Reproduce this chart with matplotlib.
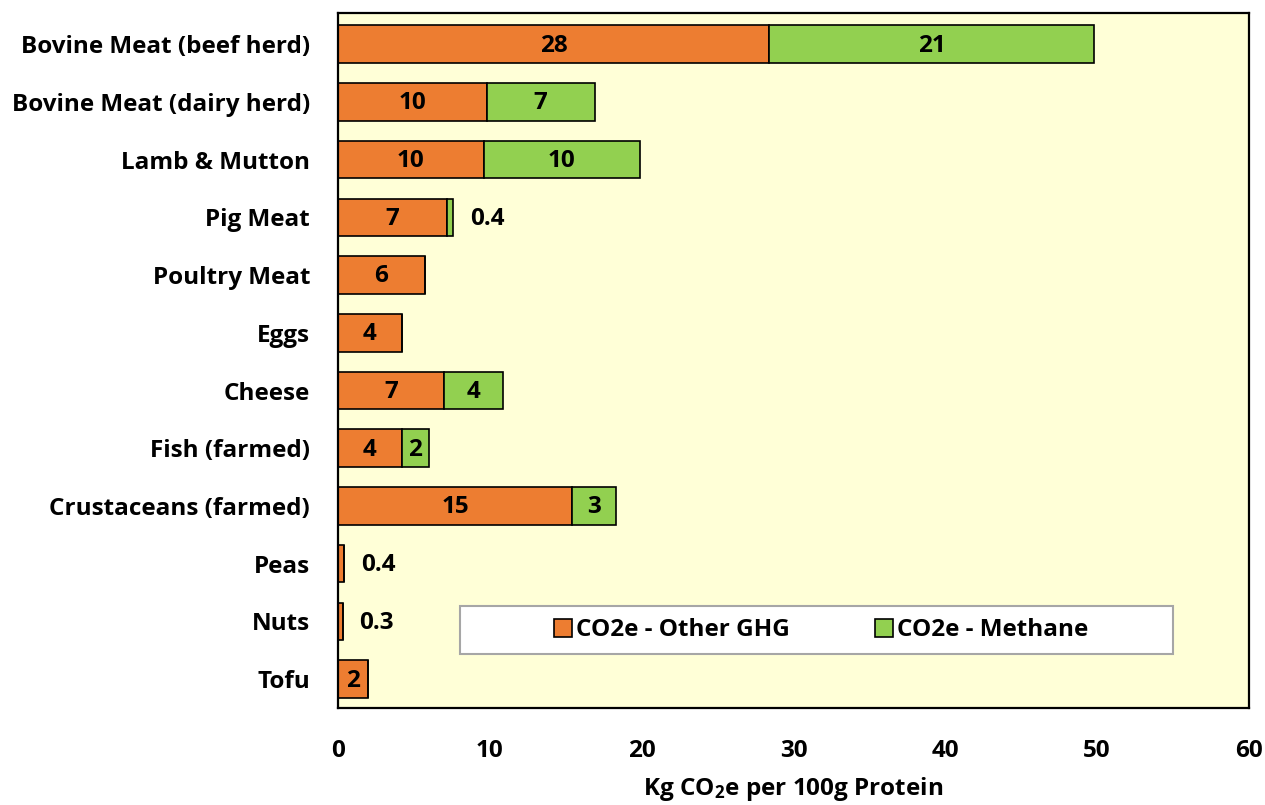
import matplotlib
matplotlib.use("Agg")
import matplotlib.pyplot as plt
from matplotlib.patches import Rectangle

# === Datos ===
alimentos = ["Bovine Meat (beef herd)", "Bovine Meat (dairy herd)", "Lamb & Mutton",
             "Pig Meat", "Poultry Meat", "Eggs", "Cheese", "Fish (farmed)",
             "Crustaceans (farmed)", "Peas", "Nuts", "Tofu"]
otros_ghg = [28.4, 9.8, 9.6, 7.2, 5.7, 4.2, 7.0, 4.2, 15.4, 0.4, 0.3, 2.0]
metano = [21.4, 7.1, 10.3, 0.4, 0, 0, 3.9, 1.8, 2.9, 0, 0, 0]

color_otros = "#ED7D31"
color_metano = "#92D050"
tam = 17.5

plt.rcParams["font.family"] = ["Open Sans", "DejaVu Sans"]
plt.rcParams["font.weight"] = "bold"
plt.rcParams["axes.labelweight"] = "bold"
plt.rcParams["mathtext.fontset"] = "custom"
plt.rcParams["mathtext.rm"] = "Open Sans:bold"
plt.rcParams["mathtext.default"] = "rm"

fig = plt.figure(figsize=(12.65, 8.05), dpi=100)
ax = fig.add_axes([338 / 1265, 1 - 708 / 805, 911 / 1265, 695 / 805])
ax.set_facecolor("#FFFFD7")

y = list(range(len(alimentos)))
alto = 0.65
b1 = ax.barh(y, otros_ghg, height=alto, color=color_otros, edgecolor="black",
             linewidth=1.2, label="CO2e - Other GHG")
b2 = ax.barh(y, metano, height=alto, left=otros_ghg, color=color_metano,
             edgecolor="black", linewidth=1.2, label="CO2e - Methane")


def etiqueta(v):
    return f"{v:.1f}" if v < 1 else f"{v:.0f}"


# Etiquetas de valor: dentro del segmento o a la derecha si es muy pequeño
for i in y:
    segmentos = [(0, otros_ghg[i])]
    if metano[i] > 0:
        segmentos.append((otros_ghg[i], metano[i]))
    for inicio, v in segmentos:
        if v < 1:
            ax.annotate(etiqueta(v), (inicio + v, i), xytext=(12, -1),
                        textcoords="offset points", ha="left", va="center",
                        fontsize=tam)
        else:
            ax.annotate(etiqueta(v), (inicio + v / 2, i), xytext=(0, -1),
                        textcoords="offset points", ha="center", va="center",
                        fontsize=tam)

ax.set_xlim(0, 60)
ax.set_ylim(11.5, -0.54)
ax.set_xticks(range(0, 61, 10))
ax.set_yticks(y)
ax.set_yticklabels(alimentos)
ax.tick_params(axis="both", length=0, labelsize=tam)
ax.tick_params(axis="x", pad=22)
ax.tick_params(axis="y", pad=20)
for s in ax.spines.values():
    s.set_linewidth(1.6)

ax.set_xlabel("Kg CO$_2$e per 100g Protein", fontsize=tam, labelpad=9)

# Caja de la leyenda
ax.add_patch(Rectangle((0.134, 0.078), 0.783, 0.069, transform=ax.transAxes,
                       facecolor="white", edgecolor="#A6A6A6", linewidth=1.5,
                       zorder=4))
ax.legend(handles=[b1, b2], loc="center", bbox_to_anchor=(0.53, 0.112), ncol=2,
          frameon=False, fontsize=tam, handlelength=0.75, handleheight=0.75,
          handletextpad=0.15, columnspacing=3.5)

fig.savefig("out.png", dpi=100)
